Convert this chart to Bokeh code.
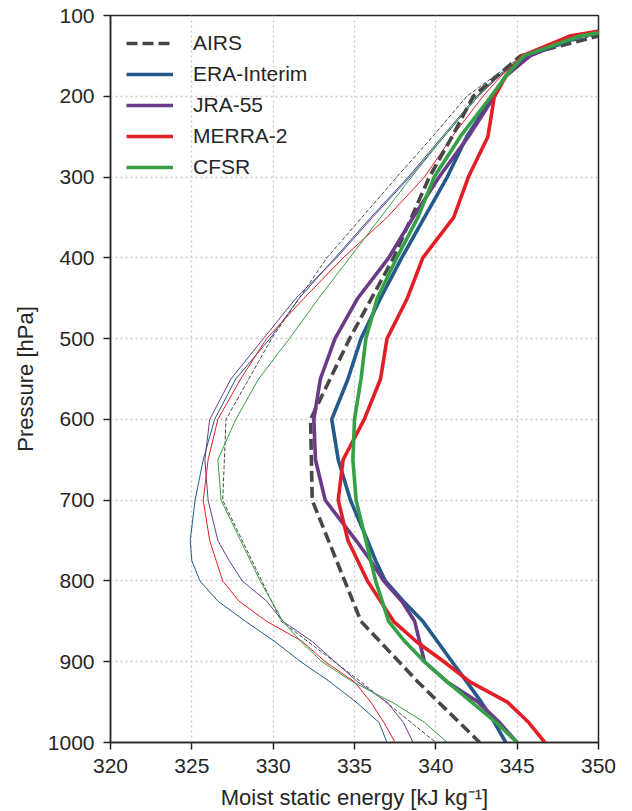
from bokeh.plotting import figure
from bokeh.models import Range1d, FixedTicker, Legend, LegendItem
from bokeh.embed import file_html
from bokeh.resources import INLINE

# Pressure levels [hPa]
levels = [100, 125, 150, 175, 200, 250, 300, 350, 400, 450, 500, 550, 600, 650,
          700, 750, 775, 800, 825, 850, 875, 900, 925, 950, 975, 1000]
airs_levels = [100, 150, 200, 250, 300, 400, 500, 600, 700, 850, 925, 1000]

# Thick profiles (moist static energy, kJ/kg)
airs_thick = [355.0, 345.2, 342.3, 341.0, 339.6, 337.4, 334.7, 332.3, 332.4, 335.4, 338.9, 342.7]
era_thick = [357.0, 349.0, 345.7, 344.3, 343.5, 341.9, 340.7, 339.3, 337.9, 336.6, 335.4, 334.6, 333.6, 334.0,
             334.75, 335.8, 336.3, 336.9, 338.0, 339.2, 340.1, 341.0, 341.9, 342.8, 343.6, 344.3]
jra_thick = [356.5, 348.6, 345.8, 344.3, 343.6, 342.0, 340.2, 338.6, 337.1, 335.2, 333.8, 332.9, 332.5, 332.6,
             333.2, 335.1, 336.0, 336.8, 337.9, 338.7, 339.0, 339.3, 340.7, 342.6, 343.9, 345.0]
merra_thick = [356.0, 348.3, 345.3, 344.3, 343.6, 343.2, 342.0, 341.1, 339.2, 338.25, 337.0, 336.6, 335.6, 334.3,
               334.0, 334.6, 335.2, 335.8, 336.6, 337.4, 338.8, 340.5, 342.1, 344.4, 345.7, 346.7]
cfsr_thick = [357.0, 348.9, 345.4, 344.3, 343.4, 341.5, 339.9, 338.9, 337.6, 336.4, 335.7, 335.4, 335.0, 334.9,
              335.1, 335.7, 336.0, 336.3, 336.7, 337.1, 338.1, 339.3, 340.7, 342.2, 343.7, 345.0]

# Thin profiles
airs_thin = [354.0, 345.3, 341.9, 339.8, 337.6, 333.3, 329.9, 327.1, 326.9, 330.5, 335.4, 340.0]
era_thin = [356.0, 348.8, 345.4, 343.8, 342.5, 340.4, 338.3, 336.0, 333.8, 331.6, 329.8, 327.7, 326.4, 325.7,
            325.2, 324.9, 325.0, 325.5, 326.6, 328.3, 330.1, 331.7, 333.5, 335.1, 336.5, 337.0]
jra_thin = [356.0, 348.6, 345.5, 343.9, 342.6, 340.5, 338.4, 336.1, 333.9, 331.4, 329.4, 327.4, 326.1, 325.8,
            326.0, 326.6, 327.3, 328.1, 329.6, 330.6, 332.4, 333.8, 335.2, 337.0, 338.0, 338.6]
merra_thin = [355.5, 348.3, 345.4, 344.0, 342.9, 341.0, 339.3, 337.0, 334.3, 331.9, 329.6, 328.0, 326.6, 326.0,
              325.7, 326.1, 326.5, 326.9, 327.9, 329.6, 331.8, 333.2, 335.0, 336.0, 336.8, 337.5]
cfsr_thin = [356.0, 348.7, 345.4, 343.8, 342.6, 340.5, 338.5, 336.6, 334.7, 332.8, 331.0, 329.1, 327.7, 326.6,
             326.8, 328.0, 328.6, 329.2, 329.9, 330.6, 331.7, 333.0, 334.9, 337.3, 339.3, 340.7]

names = ["AIRS", "ERA-Interim", "JRA-55", "MERRA-2", "CFSR"]
colors = ["#474747", "#24598a", "#6a3b87", "#e41e26", "#36a047"]

x_ticks = [320, 325, 330, 335, 340, 345, 350]
y_ticks = [100, 200, 300, 400, 500, 600, 700, 800, 900, 1000]

FONT = "Liberation Sans"
AX = "#262626"

p = figure(frame_width=488, frame_height=727, output_backend="svg", toolbar_location=None,
           x_range=Range1d(320, 350), y_range=Range1d(1000, 100),
           min_border_left=110, min_border_right=26, min_border_top=15, min_border_bottom=60,
           background_fill_color="white", border_fill_color="white")

p.outline_line_color = AX
p.outline_line_width = 1.5
p.outline_line_alpha = 1.0

for ax in (p.xaxis[0], p.yaxis[0]):
    ax.axis_line_color = AX
    ax.axis_line_width = 1.5
    ax.major_tick_line_color = AX
    ax.major_tick_line_width = 1.5
    ax.major_tick_out = 7
    ax.major_tick_in = 0
    ax.minor_tick_line_color = None
    ax.major_label_text_font = FONT
    ax.major_label_text_font_size = "21px"
    ax.major_label_text_color = "#262626"
    ax.axis_label_text_font = FONT
    ax.axis_label_text_font_size = "22px"
    ax.axis_label_text_font_style = "normal"
    ax.axis_label_text_color = "#262626"

p.xaxis.ticker = FixedTicker(ticks=x_ticks)
p.yaxis.ticker = FixedTicker(ticks=y_ticks)
p.xaxis.axis_label = "Moist static energy [kJ kg\u207b\u00b9]"
p.yaxis.axis_label = "Pressure [hPa]"
p.xaxis.major_label_standoff = 9
p.xaxis.axis_label_standoff = 9
p.yaxis.major_label_standoff = 9
p.yaxis.axis_label_standoff = 7

for g in (p.xgrid[0], p.ygrid[0]):
    g.grid_line_color = "#c8c8c8"
    g.grid_line_width = 1.3
    g.grid_line_dash = "2 3"

thin = [airs_thin, era_thin, jra_thin, merra_thin, cfsr_thin]
thick = [airs_thick, era_thick, jra_thick, merra_thick, cfsr_thick]

for i, xs in enumerate(thin):
    lv = airs_levels if i == 0 else levels
    p.line(xs, lv, line_color=colors[i], line_width=1.0,
           line_dash="4 2" if i == 0 else "solid", line_join="round")

items = []
for i, xs in enumerate(thick):
    lv = airs_levels if i == 0 else levels
    r = p.line(xs, lv, line_color=colors[i], line_width=3.6,
               line_dash="11 5" if i == 0 else "solid", line_join="round")
    items.append(LegendItem(label=names[i], renderers=[r]))

legend = Legend(items=items, location="top_left")
legend.margin = 0
legend.padding = 16
legend.spacing = 7
legend.glyph_width = 47
legend.glyph_height = 20
legend.label_height = 20
legend.label_standoff = 20
legend.label_text_font = FONT
legend.label_text_font_size = "21px"
legend.label_text_color = "#262626"
legend.border_line_alpha = 0
legend.background_fill_alpha = 0
p.add_layout(legend, "center")

open("out.html", "w").write(file_html(p, INLINE))
